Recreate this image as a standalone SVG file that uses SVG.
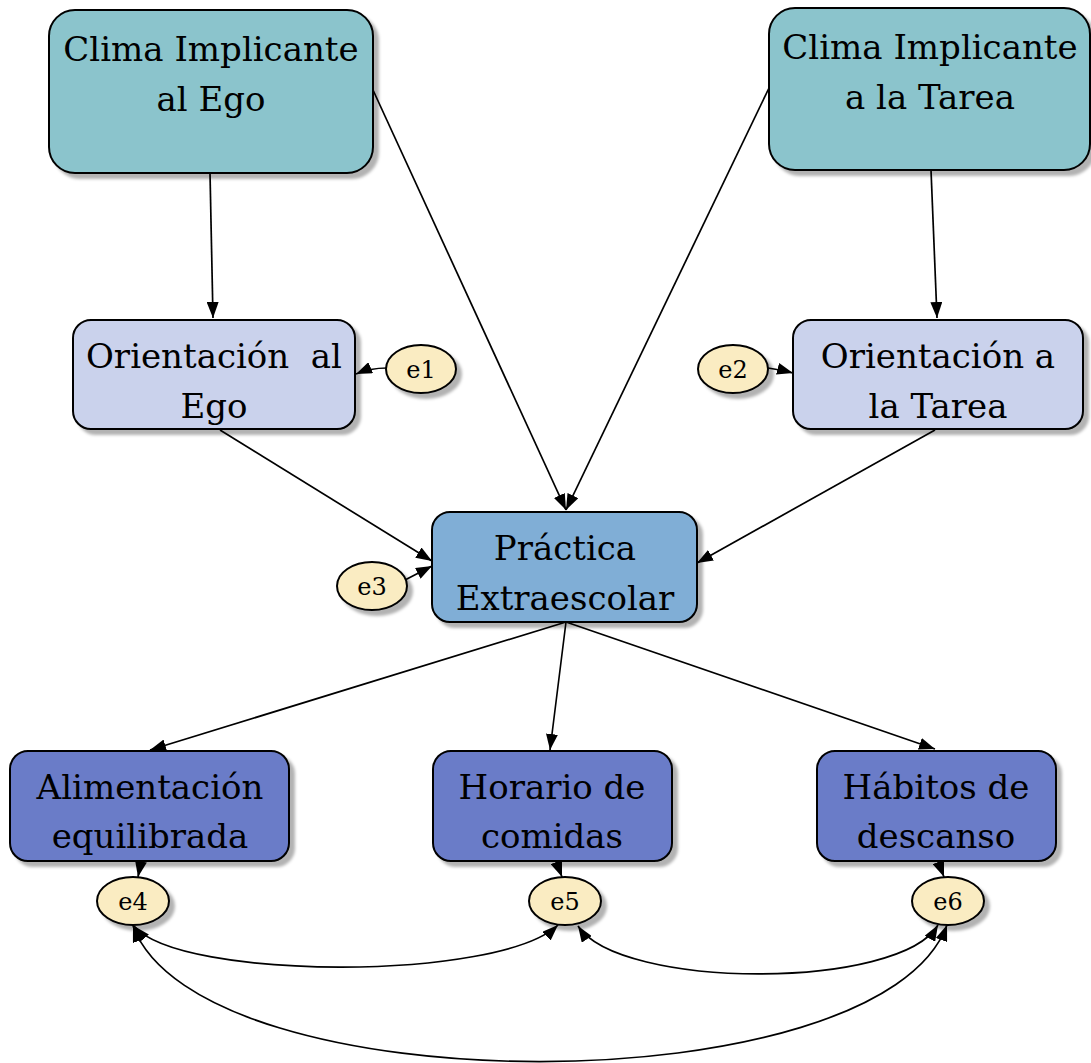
<svg xmlns="http://www.w3.org/2000/svg" width="1091" height="1063" viewBox="0 0 1091 1063">
  <style>
    .box { stroke: #000; stroke-width: 2; filter: url(#shadow); }
    .clima { fill: #8bc4cc; }
    .orient { fill: #cad2ec; }
    .prac { fill: #80aed6; }
    .habit { fill: #6a7cc8; }
    .err { fill: #faecc2; stroke: #000; stroke-width: 2; filter: url(#shadow); }
    .lbl { font-family: "DejaVu Serif", serif; font-size: 34px; fill: #000; text-anchor: middle; }
    .elbl { font-family: "DejaVu Serif", serif; font-size: 24px; fill: #000; text-anchor: middle; }
    .edge { fill: none; stroke: #000; stroke-width: 1.7; }
  </style>
  <defs>
    <filter id="shadow" x="-10%" y="-10%" width="130%" height="130%">
      <feGaussianBlur in="SourceAlpha" stdDeviation="1.5" result="b"/>
      <feOffset in="b" dx="5" dy="5" result="o"/>
      <feFlood flood-color="#000" flood-opacity="0.3"/>
      <feComposite in2="o" operator="in" result="s"/>
      <feMerge><feMergeNode in="s"/><feMergeNode in="SourceGraphic"/></feMerge>
    </filter>
    <marker id="arrow" viewBox="0 0 16 12" refX="16" refY="6" markerWidth="16" markerHeight="12" markerUnits="userSpaceOnUse" orient="auto-start-reverse">
      <path d="M0,0 L16,6 L0,12 Z" fill="#000"/>
    </marker>
  </defs>

  <!-- connectors -->
  <g id="connectors">
    <line class="edge" x1="210" y1="173" x2="213" y2="318" marker-end="url(#arrow)"/>
    <line class="edge" x1="373" y1="90" x2="566" y2="510" marker-end="url(#arrow)"/>
    <line class="edge" x1="769" y1="88" x2="566" y2="510" marker-end="url(#arrow)"/>
    <line class="edge" x1="931" y1="170" x2="937" y2="318" marker-end="url(#arrow)"/>
    <path class="edge" d="M387,368 Q370,368 356,374" marker-end="url(#arrow)"/>
    <path class="edge" d="M768,368 Q782,370 793,373" marker-end="url(#arrow)"/>
    <line class="edge" x1="220" y1="430" x2="432" y2="561" marker-end="url(#arrow)"/>
    <line class="edge" x1="935" y1="430" x2="697" y2="563" marker-end="url(#arrow)"/>
    <line class="edge" x1="405" y1="580" x2="432" y2="566" marker-end="url(#arrow)"/>
    <line class="edge" x1="566" y1="622" x2="150" y2="750" marker-end="url(#arrow)"/>
    <line class="edge" x1="566" y1="622" x2="550" y2="750" marker-end="url(#arrow)"/>
    <line class="edge" x1="566" y1="622" x2="935" y2="749" marker-end="url(#arrow)"/>
    <line class="edge" x1="141" y1="861" x2="138" y2="877" marker-end="url(#arrow)"/>
    <line class="edge" x1="556" y1="861" x2="562" y2="877" marker-end="url(#arrow)"/>
    <line class="edge" x1="938" y1="861" x2="944" y2="877" marker-end="url(#arrow)"/>
    <path class="edge" d="M134,926 C180,981 500,981 558,925" marker-start="url(#arrow)" marker-end="url(#arrow)"/>
    <path class="edge" d="M578,926 C620,990 900,990 938,925" marker-start="url(#arrow)" marker-end="url(#arrow)"/>
    <path class="edge" d="M133,926 C200,1107 880,1107 947,925" marker-start="url(#arrow)" marker-end="url(#arrow)"/>
  </g>

  <g id="clima-ego">
    <rect class="box clima" x="49" y="10" width="324" height="163" rx="26"/>
    <text class="lbl" x="211" y="61">Clima Implicante</text>
    <text class="lbl" x="211" y="111">al Ego</text>
  </g>
  <g id="clima-tarea">
    <rect class="box clima" x="769" y="8" width="321" height="162" rx="26"/>
    <text class="lbl" x="930" y="59">Clima Implicante</text>
    <text class="lbl" x="930" y="109">a la Tarea</text>
  </g>
  <g id="orient-ego">
    <rect class="box orient" x="73" y="320" width="282" height="109" rx="18"/>
    <text class="lbl" x="214" y="368" xml:space="preserve">Orientación  al</text>
    <text class="lbl" x="214" y="418">Ego</text>
  </g>
  <g id="orient-tarea">
    <rect class="box orient" x="793" y="320" width="290" height="109" rx="18"/>
    <text class="lbl" x="938" y="368">Orientación a</text>
    <text class="lbl" x="938" y="418">la Tarea</text>
  </g>
  <g id="practica">
    <rect class="box prac" x="432" y="512" width="265" height="110" rx="18"/>
    <text class="lbl" x="565" y="560">Práctica</text>
    <text class="lbl" x="565" y="610">Extraescolar</text>
  </g>
  <g id="alimentacion">
    <rect class="box habit" x="10" y="751" width="279" height="110" rx="18"/>
    <text class="lbl" x="150" y="799">Alimentación</text>
    <text class="lbl" x="150" y="848">equilibrada</text>
  </g>
  <g id="horario">
    <rect class="box habit" x="433" y="751" width="239" height="110" rx="18"/>
    <text class="lbl" x="552" y="799">Horario de</text>
    <text class="lbl" x="552" y="848">comidas</text>
  </g>
  <g id="habitos">
    <rect class="box habit" x="817" y="751" width="239" height="110" rx="18"/>
    <text class="lbl" x="936" y="799">Hábitos de</text>
    <text class="lbl" x="936" y="848">descanso</text>
  </g>

  <g id="e1"><ellipse class="err" cx="421" cy="369" rx="35" ry="24"/><text class="elbl" x="421" y="378">e1</text></g>
  <g id="e2"><ellipse class="err" cx="733" cy="369" rx="35" ry="24"/><text class="elbl" x="733" y="378">e2</text></g>
  <g id="e3"><ellipse class="err" cx="372" cy="586" rx="35" ry="24"/><text class="elbl" x="372" y="595">e3</text></g>
  <g id="e4"><ellipse class="err" cx="133" cy="901" rx="36" ry="24"/><text class="elbl" x="133" y="910">e4</text></g>
  <g id="e5"><ellipse class="err" cx="565" cy="901" rx="36" ry="24"/><text class="elbl" x="565" y="910">e5</text></g>
  <g id="e6"><ellipse class="err" cx="948" cy="901" rx="36" ry="24"/><text class="elbl" x="948" y="910">e6</text></g>
</svg>
